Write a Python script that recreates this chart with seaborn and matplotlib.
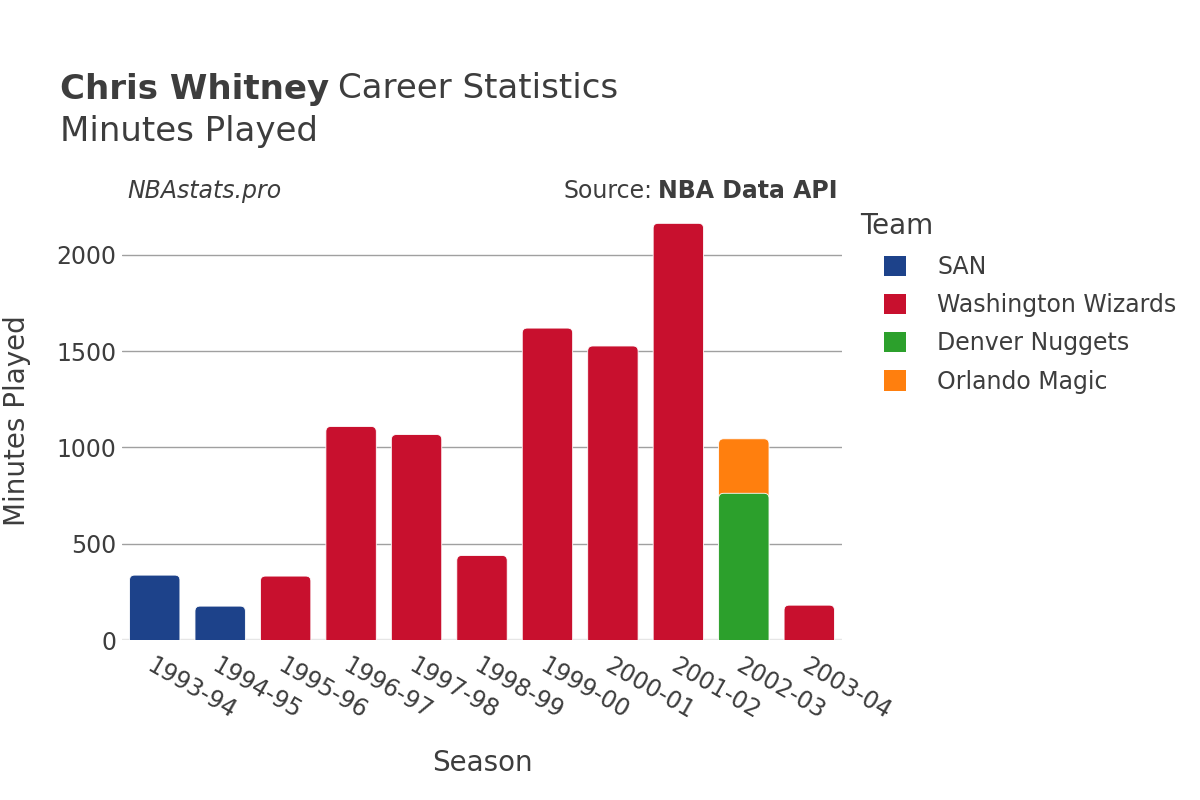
import matplotlib
matplotlib.use('Agg')

import pandas as pd
import matplotlib.pyplot as plt
import seaborn as sns
from matplotlib.patches import FancyBboxPatch, Patch

# datos
seasons = ['1993-94', '1994-95', '1995-96', '1996-97', '1997-98', '1998-99',
           '1999-00', '2000-01', '2001-02', '2002-03', '2002-03', '2003-04']
teams = ['SAN', 'SAN', 'Washington Wizards', 'Washington Wizards', 'Washington Wizards',
         'Washington Wizards', 'Washington Wizards', 'Washington Wizards',
         'Washington Wizards', 'Denver Nuggets', 'Orlando Magic', 'Washington Wizards']
minutes = [337, 176, 332, 1109, 1067, 439, 1620, 1527, 2164, 762, 283, 181]

team_order = ['SAN', 'Washington Wizards', 'Denver Nuggets', 'Orlando Magic']
team_colors = {'SAN': '#1d428a', 'Washington Wizards': '#c8102e',
               'Denver Nuggets': '#2ca02c', 'Orlando Magic': '#ff7f0e'}

df = pd.DataFrame({'season': seasons, 'team': teams, 'minutes': minutes})
season_order = list(dict.fromkeys(seasons))

# apilar: altura acumulada dentro de cada temporada
df['team_rank'] = df['team'].map(team_order.index)
df = df.sort_values(['season', 'team_rank'])
df['top'] = df.groupby('season')['minutes'].cumsum()

text_color = '#3d3d3d'
sns.set_theme(style='white')
plt.rcParams['font.family'] = ['DejaVu Sans']

fig = plt.figure(figsize=(12, 8), dpi=100)
ax = fig.add_axes([122 / 1200, 1 - 640 / 800, (842 - 122) / 1200, (640 - 201) / 800])

# dibujar la capa de arriba primero para que se vea apilado
draw_order = ['SAN', 'Washington Wizards', 'Orlando Magic', 'Denver Nuggets']
sns.barplot(data=df, x='season', y='top', hue='team', order=season_order,
            hue_order=draw_order, palette=team_colors, dodge=False,
            width=0.77, saturation=1, legend=False, ax=ax, zorder=3)

ax.set_xlim(-0.5, 10.5)
ax.set_ylim(0, 2280)

# esquinas redondeadas
aspect = 26 / 0.077
for p in list(ax.patches):
    h = p.get_height()
    if h <= 0:
        p.remove()
        continue
    x, w, c = p.get_x(), p.get_width(), p.get_facecolor()
    p.remove()
    ax.add_patch(FancyBboxPatch((x, -60), w, h + 60,
                                boxstyle='round,pad=0,rounding_size=0.077',
                                mutation_aspect=aspect, facecolor=c,
                                edgecolor='white', linewidth=0.6, zorder=3))

# ejes y cuadricula
ax.set_yticks([0, 500, 1000, 1500, 2000])
ax.yaxis.grid(True, color='#a0a0a0', linewidth=1, zorder=0)
ax.axhline(0, color='#e6e6e6', linewidth=2.5, zorder=2)
for s in ax.spines.values():
    s.set_visible(False)
ax.tick_params(axis='y', labelsize=17, colors=text_color, length=0, pad=4)
ax.tick_params(axis='x', labelsize=17, colors=text_color, length=0, pad=10)
plt.setp(ax.get_xticklabels(), rotation=-30, ha='left', va='top', rotation_mode='anchor')
ax.set_xlabel('Season', fontsize=20, color=text_color, labelpad=18)
ax.set_ylabel('Minutes Played', fontsize=20, color=text_color, va='center')
ax.yaxis.set_label_coords((17 - 122) / 720, 0.5)

# titulos
fig.canvas.draw()
r = fig.canvas.get_renderer()
t1 = fig.text(60 / 1200, 1 - 89 / 800, 'Chris Whitney', fontsize=24.5, fontweight='bold',
              color=text_color, va='center')
bb = t1.get_window_extent(renderer=r)
fig.text((bb.x1 + 9) / 1200, 1 - 89 / 800, 'Career Statistics', fontsize=24.5,
         color=text_color, va='center')
fig.text(60 / 1200, 1 - 132 / 800, 'Minutes Played', fontsize=24.5,
         color=text_color, va='center')
fig.text(127 / 1200, 1 - 191 / 800, 'NBAstats.pro', fontsize=17, style='italic',
         color=text_color, va='center')
t2 = fig.text(838 / 1200, 1 - 191 / 800, 'NBA Data API', fontsize=17, fontweight='bold',
              color=text_color, va='center', ha='right')
bb = t2.get_window_extent(renderer=r)
fig.text((bb.x0 - 6) / 1200, 1 - 191 / 800, 'Source:', fontsize=17, color=text_color,
         va='center', ha='right')

# leyenda
fig.text(860 / 1200, 1 - 226 / 800, 'Team', fontsize=20, color=text_color, va='center')
handles = [Patch(facecolor=team_colors[t], edgecolor='none', label=t) for t in team_order]
leg = fig.legend(handles=handles, loc='upper left',
                 bbox_to_anchor=(884 / 1200, 1 - 255 / 800), frameon=False,
                 fontsize=17, handlelength=0.95, handleheight=0.95,
                 handletextpad=1.3, labelspacing=0.6, borderaxespad=0, borderpad=0)
for t in leg.get_texts():
    t.set_color(text_color)

fig.savefig('out.png', dpi=100)
